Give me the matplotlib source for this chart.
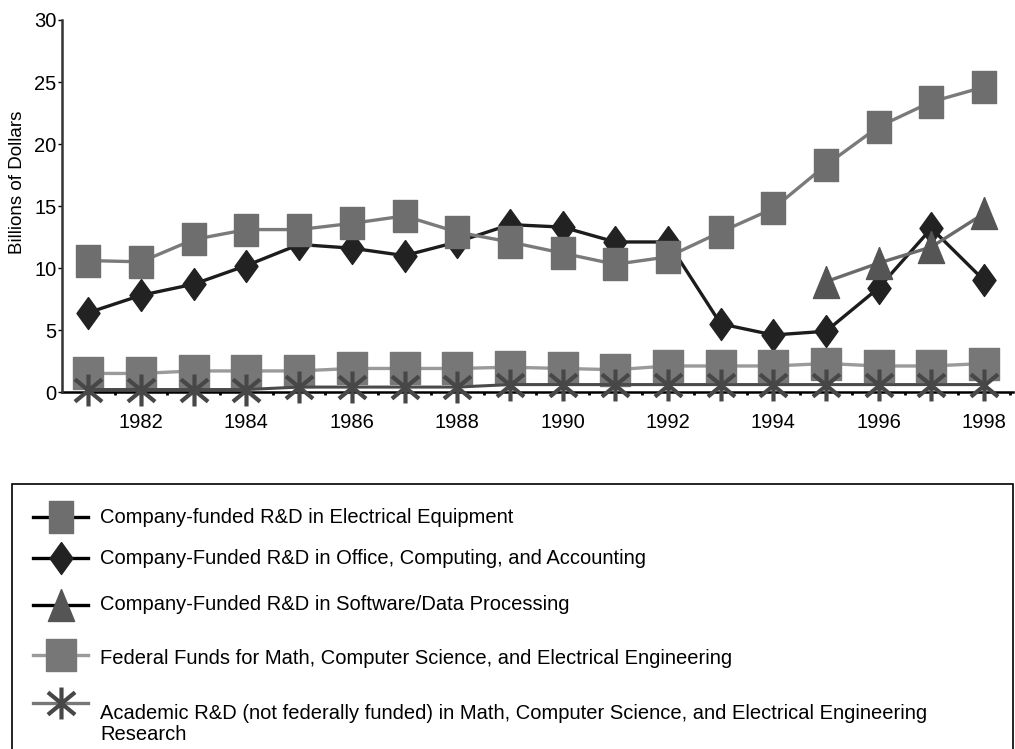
import numpy as np
import matplotlib
matplotlib.use("Agg")
import matplotlib.pyplot as plt
from matplotlib.path import Path
from matplotlib.lines import Line2D
from matplotlib.patches import Rectangle

plt.rcParams['font.family'] = ['Liberation Sans', 'DejaVu Sans']

# data (billions of dollars)
years = list(range(1981, 1999))
elec_equip = [10.6, 10.5, 12.3, 13.1, 13.1, 13.6, 14.2, 12.9, 12.1, 11.2,
              10.3, 10.9, 12.9, 14.8, 18.3, 21.4, 23.4, 24.6]
office_comp = [6.4, 7.8, 8.7, 10.2, 11.9, 11.6, 11.0, 12.1, 13.5, 13.3,
               12.1, 12.1, 5.5, 4.6, 4.9, 8.4, 13.2, 9.0]
software_years = [1995, 1996, 1997, 1998]
software = [8.9, 10.4, 11.7, 14.4]
federal = [1.5, 1.5, 1.7, 1.7, 1.7, 1.9, 1.9, 1.9, 2.0, 1.9,
           1.8, 2.1, 2.1, 2.1, 2.3, 2.1, 2.1, 2.3]
academic = [0.2, 0.2, 0.2, 0.2, 0.4, 0.4, 0.4, 0.4, 0.6, 0.6,
            0.6, 0.6, 0.6, 0.6, 0.6, 0.6, 0.6, 0.6]

labels = ['Company-funded R&D in Electrical Equipment',
          'Company-Funded R&D in Office, Computing, and Accounting',
          'Company-Funded R&D in Software/Data Processing',
          'Federal Funds for Math, Computer Science, and Electrical Engineering',
          'Academic R&D (not federally funded) in Math, Computer Science, and Electrical Engineering\nResearch']

# custom marker shapes (taller than wide, like the original)
tall_sq = [(-0.78, -1), (0.78, -1), (0.78, 1), (-0.78, 1), (-0.78, -1)]
fed_sq = [(-0.92, -1), (0.92, -1), (0.92, 1), (-0.92, 1), (-0.92, -1)]
diamond = [(0, 1), (0.72, 0), (0, -1), (-0.72, 0), (0, 1)]
tri = [(0, 1), (0.82, -1), (-0.82, -1), (0, 1)]
star = Path([(0, -1), (0, 1), (-0.85, -0.7), (0.85, 0.7), (-0.85, 0.7), (0.85, -0.7)],
            [Path.MOVETO, Path.LINETO] * 3)

W, H = 1015, 749
fig = plt.figure(figsize=(W / 100, H / 100), dpi=100)
ax = fig.add_axes([0.0611, 0.4766, 0.937, 0.4967])

ax.plot(years, office_comp, color='#1c1c1c', lw=2.4, marker=diamond, ms=23,
        mfc='#222222', mec='#222222', clip_on=False, zorder=3)
ax.plot(years, elec_equip, color='#7a7a7a', lw=2.4, marker=tall_sq, ms=23,
        mfc='#6e6e6e', mec='#6e6e6e', clip_on=False, zorder=4)
ax.plot(software_years, software, color='#6a6a6a', lw=2.4, marker=tri, ms=23,
        mfc='#555555', mec='#555555', clip_on=False, zorder=5)
ax.plot(years, federal, color='#9a9a9a', lw=2.4, marker=fed_sq, ms=23,
        mfc='#777777', mec='#777777', clip_on=False, zorder=6)
ax.plot(years, academic, color='#4a4a4a', lw=2.2, marker=star, ms=23,
        mec='#474747', mew=3, clip_on=False, zorder=7)

ax.set_xlim(1980.5, 1998.55)
ax.set_ylim(0, 30)
ax.set_yticks(range(0, 31, 5))
ax.set_xticks(range(1982, 1999, 2))
ax.set_xticks(np.arange(1981.5, 1999, 1), minor=True)
ax.tick_params(axis='x', which='major', length=0, pad=15, labelsize=14.5)
ax.tick_params(axis='x', which='minor', length=2.5, width=2, direction='out', color='black')
ax.tick_params(axis='y', length=3, width=1, pad=1, labelsize=14.5)

for s in ['top', 'right']:
    ax.spines[s].set_visible(False)
ax.spines['left'].set_color('#333333')
ax.spines['left'].set_linewidth(1.8)
ax.spines['bottom'].set_color('black')
ax.spines['bottom'].set_linewidth(1.8)
ax.spines['bottom'].set_zorder(2)

ax.set_ylabel('Billions of Dollars', fontsize=13.5)
ax.yaxis.set_label_coords(-0.038, 0.565)

# key below the chart, drawn by hand to follow the original's uneven rows
key_styles = [
    dict(color='black', marker=tall_sq, mfc='#6e6e6e', mec='#6e6e6e'),
    dict(color='black', marker=diamond, mfc='#222222', mec='#222222'),
    dict(color='black', marker=tri, mfc='#555555', mec='#555555'),
    dict(color='#9a9a9a', marker=fed_sq, mfc='#777777', mec='#777777'),
    dict(color='#777777', marker=star, mec='#474747', mew=3),
]
handle_y = [517, 558, 605, 655, 703]
text_base = [523, 564, 610, 664, 740]   # last one: baseline of the second line
for lab, st, hy, ty in zip(labels, key_styles, handle_y, text_base):
    fig.add_artist(Line2D(np.array([33, 60.5, 88]) / W, [1 - hy / H] * 3, lw=2.4, ms=23,
                          markevery=[1], transform=fig.transFigure, **st))
    fig.text(100 / W, 1 - ty / H, lab, fontsize=14.5, va='baseline', ha='left',
             linespacing=1.15)

fig.patches.append(Rectangle((12 / W, -0.05), 1001 / W, 1 - 484 / H + 0.05,
                             transform=fig.transFigure, fill=False,
                             edgecolor='black', lw=1.2))

fig.savefig('out.png', dpi=100)
